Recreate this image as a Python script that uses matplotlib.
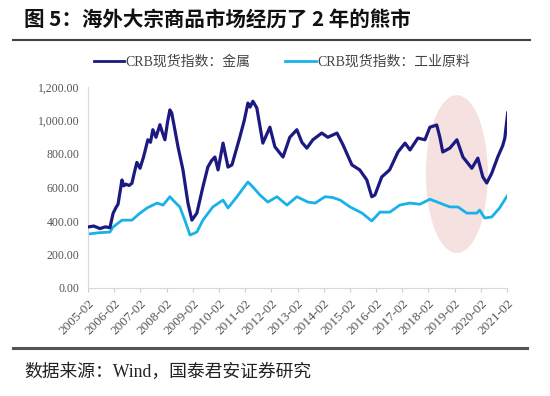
import matplotlib
matplotlib.use("Agg")
import matplotlib.pyplot as plt
from matplotlib.patches import Ellipse
from matplotlib.lines import Line2D

# ---- data (decimal years) ----
metal_t = [2005.08, 2005.30, 2005.54, 2005.75, 2005.92, 2006.04, 2006.15, 2006.23, 2006.38, 2006.45,
           2006.53, 2006.65, 2006.76, 2006.87, 2006.95, 2007.07, 2007.20, 2007.37, 2007.47, 2007.56,
           2007.68, 2007.83, 2007.92, 2008.02, 2008.12, 2008.21, 2008.28, 2008.40, 2008.52, 2008.71,
           2008.90, 2009.05, 2009.24, 2009.47, 2009.66, 2009.80, 2009.93, 2010.05, 2010.24, 2010.43,
           2010.58, 2010.88, 2011.05, 2011.19, 2011.27, 2011.38, 2011.53, 2011.76, 2012.03, 2012.22,
           2012.53, 2012.79, 2013.06, 2013.25, 2013.44, 2013.67, 2014.01, 2014.24, 2014.59, 2014.82,
           2015.16, 2015.46, 2015.73, 2015.92, 2016.04, 2016.30, 2016.60, 2016.92, 2017.19, 2017.38,
           2017.68, 2017.95, 2018.14, 2018.40, 2018.52, 2018.63, 2018.90, 2019.17, 2019.40, 2019.74,
           2019.97, 2020.16, 2020.31, 2020.50, 2020.73, 2020.92, 2021.00, 2021.11]
metal_v = [364, 370, 355, 365, 360, 445, 480, 500, 645, 610,
           620, 612, 625, 700, 750, 715, 780, 885, 870, 945,
           900, 975, 930, 885, 990, 1063, 1045, 945, 843, 705,
           507, 405, 447, 603, 722, 760, 782, 705, 865, 722,
           735, 900, 1000, 1104, 1080, 1115, 1075, 865, 960, 843,
           782, 900, 945, 870, 835, 885, 925, 900, 925, 855,
           735, 705, 645, 545, 555, 663, 705, 812, 865, 824,
           895, 885, 960, 973, 900, 812, 835, 885, 782, 715,
           775, 663, 627, 685, 782, 850, 895, 1045]

ind_t = [2005.08, 2005.50, 2005.92, 2006.04, 2006.38, 2006.76, 2007.07, 2007.34, 2007.72, 2007.95,
         2008.21, 2008.40, 2008.59, 2008.78, 2008.98, 2009.24, 2009.47, 2009.85, 2010.24, 2010.43,
         2010.77, 2011.19, 2011.38, 2011.65, 2011.95, 2012.30, 2012.68, 2013.06, 2013.48, 2013.76,
         2014.13, 2014.43, 2014.71, 2015.09, 2015.55, 2015.92, 2016.23, 2016.61, 2016.99, 2017.37,
         2017.76, 2018.14, 2018.52, 2018.90, 2019.21, 2019.55, 2019.93, 2020.04, 2020.23, 2020.50,
         2020.80, 2021.11]
ind_v = [322, 330, 334, 364, 405, 405, 447, 478, 507, 495,
         545, 513, 484, 405, 316, 334, 405, 484, 525, 478,
         545, 633, 603, 555, 513, 545, 495, 545, 513, 507,
         545, 540, 525, 484, 447, 400, 453, 453, 495, 507,
         500, 530, 507, 484, 484, 447, 447, 465, 418, 424,
         478, 555]

tick_years = list(range(2005, 2022))
tick_labels = [f"{y}-02" for y in tick_years]
y_ticks = [0, 200, 400, 600, 800, 1000, 1200]

title = "图 5：海外大宗商品市场经历了 2 年的熊市"
source = "数据来源：Wind，国泰君安证券研究"
label_metal = "CRB现货指数：金属"
label_ind = "CRB现货指数：工业原料"

SERIF = ["Liberation Serif", "Noto Sans CJK SC", "DejaVu Sans"]
CJK = ["Noto Sans CJK SC", "DejaVu Sans"]

fig = plt.figure(figsize=(5.5, 3.96), dpi=100)
ax = fig.add_axes([88 / 550, 1 - 288 / 396, (507 - 88) / 550, (288 - 87) / 396])

c_metal = "#1c1a80"
c_ind = "#19b2e8"

ax.add_patch(Ellipse((2019.17, 680), 2.37, 943, facecolor="#f6e1e1", edgecolor="none", zorder=0))
ax.plot(ind_t, ind_v, color=c_ind, lw=2.0, zorder=2)
ax.plot(metal_t, metal_v, color=c_metal, lw=2.3, zorder=3)

ax.set_xlim(2005 + 1 / 12, 2021 + 1 / 12)
ax.set_ylim(0, 1200)
ax.set_xticks([y + 1 / 12 for y in tick_years])
ax.set_xticklabels(tick_labels, rotation=45, ha="right", rotation_mode="anchor",
                   fontsize=9.5, color="#555555", family=SERIF)
ax.set_yticks(y_ticks)
ax.set_yticklabels([f"{v:,.2f}" for v in y_ticks], fontsize=8.5, color="#555555", family=SERIF)
ax.tick_params(axis="y", length=0, pad=6)
ax.tick_params(axis="x", length=3, color="#cccccc", pad=4)
for s in ["top", "right"]:
    ax.spines[s].set_visible(False)
for s in ["left", "bottom"]:
    ax.spines[s].set_color("#d9d9d9")
    ax.spines[s].set_linewidth(0.8)

# legend
handles = [Line2D([], [], color=c_metal, lw=2), Line2D([], [], color=c_ind, lw=2)]
fig.legend(handles, [label_metal, label_ind], loc="center", bbox_to_anchor=(282 / 550, 1 - 62 / 396),
           ncol=2, frameon=False, prop={"family": SERIF, "size": 10}, handlelength=2.2,
           handletextpad=0.1, columnspacing=2.5, labelcolor="#444444")

# title + rules
fig.text(24 / 550, 1 - 20 / 396, title, fontsize=14.8, fontweight="bold", family=CJK,
         va="center", ha="left", color="#111111")
fig.add_artist(Line2D([13 / 550, 530 / 550], [1 - 40 / 396] * 2, color="#444444", lw=1.5))
fig.add_artist(Line2D([13 / 550, 527 / 550], [1 - 348 / 396] * 2, color="#555555", lw=2.2))
fig.text(24 / 550, 1 - 372 / 396, source, fontsize=12.8, family=SERIF, va="center", ha="left",
         color="#222222")

fig.savefig("out.png", dpi=100, facecolor="white")
